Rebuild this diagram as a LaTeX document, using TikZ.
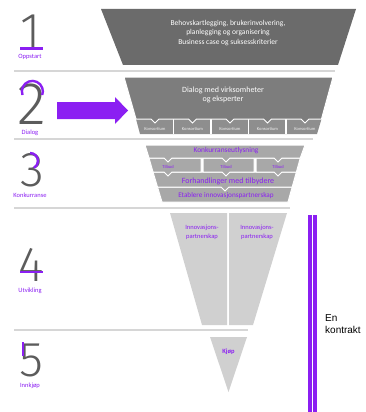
\documentclass[tikz,border=0pt]{standalone}
\usepackage{fontspec}
\setmainfont{Carlito}
\newfontfamily\numfont{Fira Sans Light}
\newfontfamily\arialfont{Liberation Sans}
\usepackage{xcolor}
\usetikzlibrary{positioning}

\definecolor{lilla}{HTML}{8B1FF2}
\definecolor{fase1}{HTML}{6B6B6B}
\definecolor{fase2}{HTML}{7D7D7D}
\definecolor{kons}{HTML}{8E8E8E}
\definecolor{fase3}{HTML}{A8A8A8}
\definecolor{fase4}{HTML}{D0D0D0}
\definecolor{skille}{HTML}{D6D6D6}
\definecolor{siffer}{HTML}{5C5C5C}

\begin{document}
\begin{tikzpicture}[x=1pt,y=-1pt,
  num/.style={font=\numfont\fontsize{49}{49}\selectfont, text=siffer, anchor=base, inner sep=0pt},
  fase/.style={font=\fontsize{6.5}{7}\selectfont, text=lilla, inner sep=0.5pt},
  hvit/.style={text=white, align=center, font=\fontsize{7.5}{9.5}\selectfont},
  lill/.style={text=lilla, align=center, inner sep=0pt},
  aksent/.style={draw=lilla, line width=2.4pt},
  boks/.style={draw=white, line width=1pt}]
\useasboundingbox (0,0) rectangle (365,412);

\draw[skille, line width=1.5pt] (14,71) -- (335,71);
\draw[skille, line width=1.5pt] (14,139) -- (313,139);
\draw[skille, line width=1.5pt] (14,208) -- (290,208);
\draw[skille, line width=1.5pt] (14,330) -- (248,330);

\node[num] (n1) at (31,48) {1};
\draw[aksent] (20,48.5) -- (43,48.5);
\node[fase] (f1) at (30,57) {Oppstart};

\node[num, font=\numfont\fontsize{60}{60}\selectfont] (n2) at (32,124) {2};
\draw[aksent] (22.5,95) arc[start angle=160, end angle=380, radius=10.5];
\node[fase] (f2) at (30,133) {Dialog};

\node[num] (n3) at (32,186) {3};
\draw[aksent] (30,153) arc[start angle=270, end angle=420, radius=8];
\node[fase] (f3) at (30,195) {Konkurranse};

\node[num] (n4) at (31,281) {4};
\draw[aksent] (20,272) -- (43,272);
\node[fase] (f4) at (30,291) {Utvikling};

\node[num] (n5) at (31,376) {5};
\draw[aksent] (23,342) -- (23,356);
\node[fase] (f5) at (30,386) {Innkjøp};

\fill[fase1] (101,9) -- (356,9) -- (338,65) -- (123,65) -- cycle;
\node[hvit] (t1) at (228,33) {Behovskartlegging, brukerinvolvering,\\planlegging og organisering\\Business case og suksesskriterier};

\fill[kons] (136,119) -- (321.5,119) -- (317,134) -- (140,134) -- cycle;
\foreach \x in {173.5,211,248.5,286}
  \draw[white, line width=1.5pt] (\x,119) -- (\x,134);
\filldraw[fase2, boks] (124,77) -- (333,77) -- (321.5,119)
  \foreach \c in {305,267.5,230,192.5,155} {-- (\c+4,119) -- (\c,123) -- (\c-4,119)}
  -- (136,119) -- cycle;
\foreach \c [count=\i] in {155,192.5,230,267.5,305}
  \node[text=white!88!gray, font=\fontsize{4.5}{5}\selectfont, inner sep=0pt] (k\i) at (\c,128.5) {Konsortium};
\node[hvit, font=\fontsize{8}{9.5}\selectfont] (t2) at (223,95) {Dialog med virksomheter\\og eksperter};

\fill[lilla] (57,102) -- (115,102) -- (115,97) -- (128,110.5) -- (115,124) -- (115,119) -- (57,119) -- cycle;

\filldraw[fase3, boks] (157.5,187) -- (292.2,187) -- (288,202) -- (162,202) -- cycle;
\filldraw[fase3, boks] (153,172) -- (296.4,172) -- (292.2,187) -- (229,187) -- (225,191) -- (221,187) -- (157.5,187) -- cycle;
\filldraw[fase3, boks] (149,158) -- (201,158) -- (201,172) -- (172,172) -- (168,176) -- (164,172) -- (153,172) -- cycle;
\filldraw[fase3, boks] (203,158) -- (254,158) -- (254,172) -- (230,172) -- (226,176) -- (222,172) -- (203,172) -- cycle;
\filldraw[fase3, boks] (256,158) -- (300.3,158) -- (296.4,172) -- (282,172) -- (278,176) -- (274,172) -- (256,172) -- cycle;
\filldraw[fase3, boks] (145,145) -- (305,145) -- (300.3,158)
  \foreach \c in {278,226,168} {-- (\c+4,158) -- (\c,162) -- (\c-4,158)}
  -- (149,158) -- cycle;
\node[lill, font=\fontsize{7.4}{8}\selectfont] (ku) at (226,151) {Konkurranseutlysning};
\foreach \c [count=\i] in {168,226,278}
  \node[lill, font=\fontsize{4.5}{5}\selectfont] (tb\i) at (\c,167) {Tilbud};
\node[lill, font=\fontsize{8}{9}\selectfont] (fh) at (228,181) {Forhandlinger med tilbydere};
\node[lill, font=\fontsize{7.2}{8}\selectfont] (et) at (226,196) {Etablere innovasjonspartnerskap};

\fill[fase4] (170,213) -- (227,213) -- (227,325) -- (202,325) -- cycle;
\fill[fase4] (229,213) -- (287,213) -- (253,325) -- (229,325) -- cycle;
\node[lill, font=\fontsize{6.5}{9}\selectfont] (ip1) at (202,232.5) {Innovasjons-\\partnerskap};
\node[lill, font=\fontsize{6.5}{9}\selectfont] (ip2) at (257,232.5) {Innovasjons-\\partnerskap};

\fill[fase4] (210,337) -- (247,337) -- (228.5,392) -- cycle;
\node[lill, font=\bfseries\fontsize{6.5}{7}\selectfont] (kj) at (228.5,352) {Kjøp};

\fill[lilla] (307.5,215) rectangle (311.5,412);
\fill[lilla] (313,215) rectangle (317,412);
\node[font=\arialfont\fontsize{10}{12}\selectfont, align=left, anchor=west, inner sep=0pt] (kt) at (325,324) {En\\kontrakt};
\end{tikzpicture}
\end{document}
